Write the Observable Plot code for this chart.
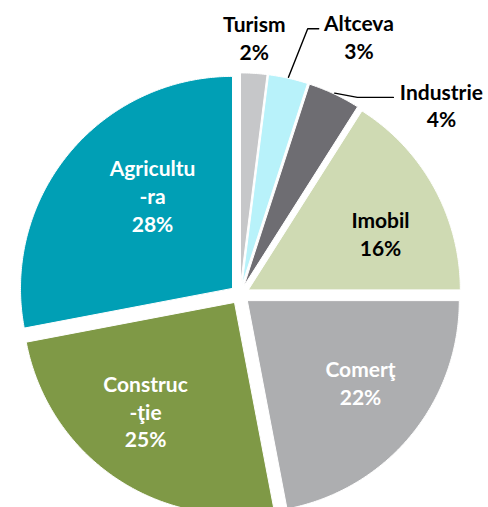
<!DOCTYPE html>
<html>
<head>
<meta charset="utf-8">
<script src="https://cdn.jsdelivr.net/npm/d3@7"></script>
<script src="https://cdn.jsdelivr.net/npm/@observablehq/plot@0.6"></script>
<style>
  body { margin: 0; background: #fff; }
  #chart svg { display: block; }
</style>
</head>
<body>
<div id="chart"></div>
<script>
// ---- data ----
const categories = ["Turism", "Altceva", "Industrie", "Imobil", "Comerţ", "Construcţie", "Agricultura"];
const shares = [2, 3, 4, 16, 22, 25, 28];
const labelNames = ["Turism", "Altceva", "Industrie", "Imobil", "Comerţ", "Construc\n-ţie", "Agricultu\n-ra"];
const colors = ["#c6c7c9", "#b8f2fa", "#6e6d72", "#cfdab3", "#adaeb0", "#7f9946", "#009fb5"];
const textColors = ["black", "black", "black", "black", "white", "white", "white"];

// ---- layout (pixels) ----
const W = 488, H = 507;
const CX = 239.4, CY = 294;     // pie centre within the SVG
const R = 212;                   // pie radius
const EXPLODE = 9.6;             // slice explosion distance
// label placement: [radius from centre, angle clockwise from 12 o'clock]
const labelPolar = [[257.7, 3.2], [284.8, 24.7], [276.9, 46.7], [153.3, 66.5], [149.3, 126.1], [149.6, 219.1], [132.4, 318.7]];
// leader lines: elbow and end offsets from label centre (screen px)
const leaderOffsets = {
  "Altceva": [[-51.2, -7], [-40.2, -7]],
  "Industrie": [[-84, -7.2], [-48, -7.2]]
};

const rad = a => a * Math.PI / 180;
const pol = (r, a) => [r * Math.sin(rad(a)), r * Math.cos(rad(a))]; // y up

const total = d3.sum(shares);
let acc = 0;
const slices = categories.map((name, i) => {
  const a0 = acc / total * 360;
  acc += shares[i];
  const a1 = acc / total * 360;
  const mid = (a0 + a1) / 2;
  const [ex, ey] = pol(EXPLODE, mid);
  const pts = [[ex, ey]];
  const n = Math.max(2, Math.ceil((a1 - a0) / 0.5));
  for (let k = 0; k <= n; k++) {
    const a = a0 + (a1 - a0) * k / n;
    const [px, py] = pol(R, a);
    pts.push([ex + px, ey + py]);
  }
  pts.push([ex, ey]);
  return {name, i, a0, a1, mid, ex, ey, pts};
});

const labelRows = slices.map(s => {
  const [lx, ly] = pol(labelPolar[s.i][0], labelPolar[s.i][1]);
  return {name: s.name, x: lx, y: ly, text: `${labelNames[s.i]}\n${shares[s.i]}%`, color: textColors[s.i]};
});

const leaderRows = [];
for (const s of slices) {
  const off = leaderOffsets[s.name];
  if (!off) continue;
  const lab = labelRows[s.i];
  const [sx, sy] = pol(R + 1, s.mid);
  leaderRows.push({name: s.name, x: s.ex + sx, y: s.ey + sy});
  for (const [dx, dy] of off) leaderRows.push({name: s.name, x: lab.x + dx, y: lab.y - dy});
}

const textOpts = {x: "x", y: "y", text: "text", fontSize: 21, fontWeight: "bold", fontFamily: "Lato, 'Open Sans', sans-serif", lineHeight: 1.33};

const chart = Plot.plot({
  width: W,
  height: H,
  margin: 0,
  x: {domain: [-CX, W - CX], axis: null},
  y: {domain: [-(H - CY), CY], axis: null},
  marks: [
    ...slices.map(s => Plot.line(s.pts, {x: d => d[0], y: d => d[1], fill: colors[s.i], stroke: "white", strokeWidth: 1})),
    Plot.line(leaderRows, {x: "x", y: "y", z: "name", stroke: "black", strokeWidth: 1.4}),
    Plot.text(labelRows.filter(d => d.color === "white"), {...textOpts, fill: "white"}),
    Plot.text(labelRows.filter(d => d.color === "black"), {...textOpts, fill: "black"})
  ]
});
document.getElementById("chart").append(chart);
</script>
</body>
</html>
